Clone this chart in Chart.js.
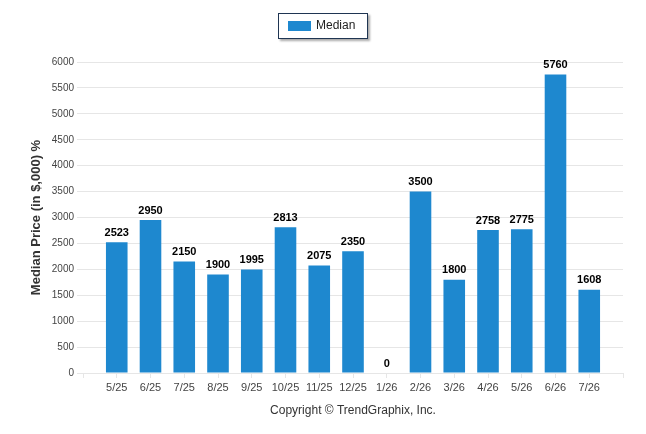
<!DOCTYPE html>
<html>
<head>
<meta charset="utf-8">
<script src="https://cdn.jsdelivr.net/npm/chart.js@4/dist/chart.umd.min.js"></script>
<style>
html,body{margin:0;padding:0;background:#fff;}
#wrap{position:relative;width:646px;height:434px;}
#legend{position:absolute;left:278px;top:13px;width:88px;height:24px;border:1px solid #1f3552;box-shadow:2px 2px 2px #aaa;background:#fff;font-family:"Liberation Sans",Arial,sans-serif;font-size:12px;color:#222;}
#legend .sw{position:absolute;left:9px;top:7px;width:23px;height:10px;background:#1e88cf;}
#legend .tx{position:absolute;left:37px;top:4px;}
</style>
</head>
<body>
<div id="wrap">
<canvas id="c" width="646" height="434"></canvas>
<div id="legend"><span class="sw"></span><span class="tx">Median</span></div>
</div>
<script>
const categories = ["5/25","6/25","7/25","8/25","9/25","10/25","11/25","12/25","1/26","2/26","3/26","4/26","5/26","6/26","7/26"];
const medianValues = [2523,2950,2150,1900,1995,2813,2075,2350,0,3500,1800,2758,2775,5760,1608];
const yTicks = [0,500,1000,1500,2000,2500,3000,3500,4000,4500,5000,5500,6000];
const seriesName = "Median";
const yTitle = "Median Price (in $,000) %";
const xTitle = "Copyright \u00A9 TrendGraphix, Inc.";

const FONT = '"Liberation Sans", Arial, sans-serif';

const labelPlugin = {
  id: 'barLabels',
  afterDatasetsDraw(chart) {
    const ctx = chart.ctx;
    const meta = chart.getDatasetMeta(0);
    ctx.save();
    ctx.font = 'bold 11px ' + FONT;
    ctx.fillStyle = '#000';
    ctx.textAlign = 'center';
    ctx.textBaseline = 'bottom';
    meta.data.forEach((el, i) => {
      ctx.fillText(String(medianValues[i]), el.x, el.y - 4);
    });
    ctx.restore();
  }
};

new Chart(document.getElementById('c'), {
  type: 'bar',
  data: {
    datasets: [{
      label: seriesName,
      data: medianValues.map((v, i) => ({x: i, y: v})),
      backgroundColor: '#1e88cf',
      borderWidth: 0,
      barPercentage: 0.64,
      categoryPercentage: 1.0
    }]
  },
  options: {
    responsive: false,
    animation: false,
    devicePixelRatio: 1,
    layout: {padding: {top: 62, right: 23, left: 0, bottom: 0}},
    plugins: {legend: {display: false}, tooltip: {enabled: false}},
    scales: {
      x: {
        type: 'linear',
        offset: false,
        min: -1, max: 15,
        afterFit(s) { s.height = 61; },
        afterBuildTicks(s) {
          const t = [];
          for (let i = -1; i <= 15; i++) t.push({value: i});
          s.ticks = t;
        },
        ticks: {
          autoSkip: false,
          maxRotation: 0,
          padding: 3,
          color: '#444',
          font: {family: FONT, size: 11},
          callback: (v) => (v >= 0 && v < categories.length) ? categories[v] : ''
        },
        grid: {drawOnChartArea: false, tickLength: 5, color: '#e6e6e6', offset: false},
        border: {display: false},
        title: {display: true, text: xTitle, color: '#333', font: {family: FONT, size: 12}, padding: {top: 0, bottom: 16}}
      },
      y: {
        min: 0, max: 6000,
        afterFit(s) { s.width = 83; },
        afterBuildTicks(s) { s.ticks = yTicks.map(v => ({value: v})); },
        ticks: {color: '#444', font: {family: FONT, size: 10}, padding: 3, callback: (v) => String(v)},
        grid: {color: '#e6e6e6', tickLength: 6},
        border: {display: false},
        title: {display: true, text: yTitle, color: '#333', font: {family: FONT, size: 13, weight: 'bold'}, padding: {top: 29, bottom: 0}}
      }
    }
  },
  plugins: [labelPlugin]
});
</script>
</body>
</html>
